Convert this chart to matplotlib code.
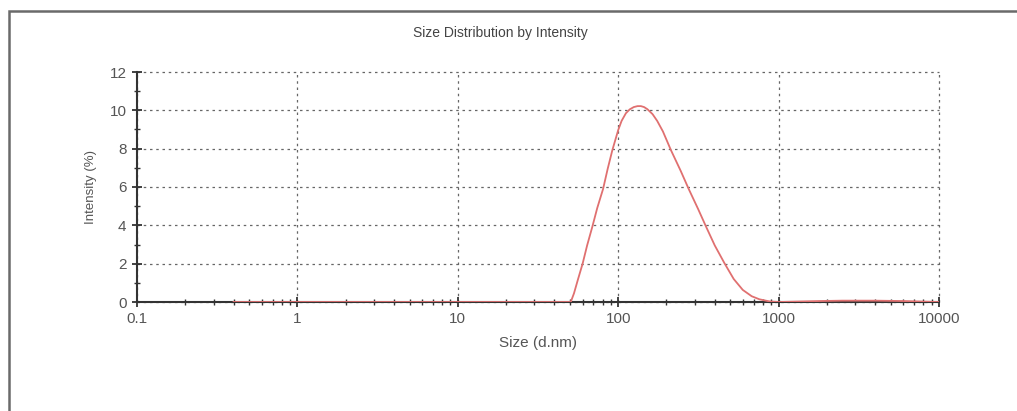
import matplotlib
matplotlib.use("Agg")
import matplotlib.pyplot as plt
from matplotlib.patches import Rectangle
from matplotlib.ticker import LogLocator, FixedLocator, NullFormatter

# Data (size in d.nm, intensity in %)
size_nm = [0.4, 1, 10, 40, 48, 50.6, 53, 56, 60, 64, 69, 74, 80.5, 86, 92, 100, 105,
           111.7, 118, 125, 132, 138.6, 145, 152, 163.8, 175, 190, 213, 245, 275, 315,
           353, 400, 460, 525, 598, 680, 760, 878, 1000, 1800, 2500, 4000, 6000, 10000]
intensity = [0.0, 0.0, 0.0, 0.0, 0.0, 0.0, 0.45, 1.15, 2.0, 2.95, 3.93, 4.9, 5.9, 6.95,
             7.93, 8.97, 9.45, 9.85, 10.05, 10.17, 10.22, 10.22, 10.17, 10.06, 9.8, 9.45,
             8.9, 7.93, 6.85, 5.9, 4.85, 3.93, 2.95, 2.02, 1.2, 0.63, 0.3, 0.14, 0.03,
             0.0, 0.05, 0.07, 0.07, 0.05, 0.0]

x_ticks = [0.1, 1, 10, 100, 1000, 10000]
x_tick_labels = ["0.1", "1", "10", "100", "1000", "10000"]
y_ticks = [0, 2, 4, 6, 8, 10, 12]

plt.rcParams['font.family'] = ['Liberation Sans', 'DejaVu Sans']

fig = plt.figure(figsize=(10.17, 4.11), dpi=100)
fig.patch.set_facecolor("white")

# outer frame
fig.patches.append(Rectangle((9/1017, -0.05), 1.2, 1 - 11/411 + 0.05,
                             transform=fig.transFigure, fill=False,
                             edgecolor="#6a6a6a", linewidth=1.8))

ax = fig.add_axes([137/1017, 1 - 302/411, (939 - 137)/1017, (302 - 72)/411])
ax.set_xscale("log")
ax.set_xlim(0.1, 10000)
ax.set_ylim(0, 12)

ax.plot(size_nm, intensity, color="#e07070", linewidth=1.3, zorder=3)

ax.set_xticks(x_ticks)
ax.set_xticklabels(x_tick_labels)
ax.xaxis.set_minor_locator(LogLocator(base=10, subs=range(2, 10)))
ax.xaxis.set_minor_formatter(NullFormatter())
ax.set_yticks(y_ticks)
ax.yaxis.set_minor_locator(FixedLocator([1, 3, 5, 7, 9, 11]))

for s in ["top", "right"]:
    ax.spines[s].set_visible(False)
for s in ["left", "bottom"]:
    ax.spines[s].set_color("#333333")
    ax.spines[s].set_linewidth(1.5)

ax.tick_params(which="major", direction="inout", length=7, width=1.3, color="#333333",
               labelsize=11, labelcolor="#555555", pad=4)
ax.tick_params(which="minor", direction="inout", length=5, width=1.0, color="#333333")

ax.grid(True, which="major", color="#666666", linestyle=(0, (2, 3)), linewidth=0.9)
for gl in ax.get_xgridlines() + ax.get_ygridlines():
    gl.set_clip_on(False)
ax.set_axisbelow(True)

ax.set_xlabel("Size (d.nm)", fontsize=11, color="#555555", labelpad=7)
ax.set_ylabel("Intensity (%)", fontsize=9.5, color="#555555", labelpad=9)
fig.text(500/1017, 1 - 33/411, "Size Distribution by Intensity", fontsize=10,
         color="#444444", ha="center", va="center")

fig.savefig("out.png", dpi=100, facecolor="white")
